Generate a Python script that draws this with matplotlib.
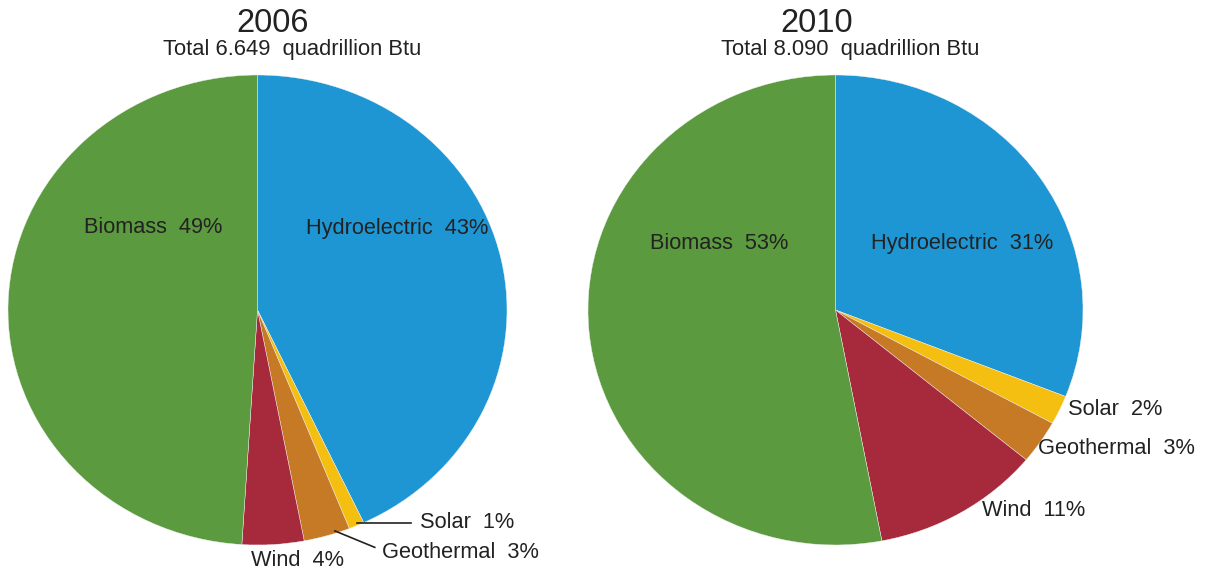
import matplotlib.pyplot as plt

plt.rcParams['font.family'] = ['Liberation Sans', 'DejaVu Sans']

W, H = 1212, 574
dpi = 100

# data (order: clockwise from 12 o'clock)
sources = ['Hydroelectric', 'Solar', 'Geothermal', 'Wind', 'Biomass']
share_2006 = [43, 1, 3, 4, 49]
share_2010 = [31, 2, 3, 11, 53]
totals = {'2006': '6.649', '2010': '8.090'}
colors = ['#1f96d4', '#f5bf12', '#c67a26', '#a62a3b', '#5b9a3e']
text_color = '#222222'


def px_box(x0, x1, y0, y1):
    # pixel box -> figure fraction [left, bottom, width, height]
    return [x0 / W, 1 - y1 / H, (x1 - x0) / W, (y1 - y0) / H]


fig = plt.figure(figsize=(W / dpi, H / dpi), dpi=dpi)

ax1 = fig.add_axes(px_box(8, 507, 75, 545))
ax2 = fig.add_axes(px_box(588, 1083, 75, 545))

for ax, vals in [(ax1, share_2006), (ax2, share_2010)]:
    ax.pie(vals, colors=colors, startangle=90, counterclock=False,
           wedgeprops=dict(edgecolor='#f4f4f4', linewidth=0.3))
    ax.set_aspect('auto')
    ax.set_xlim(-1.0, 1.0)
    ax.set_ylim(-1.0, 1.0)
    ax.axis('off')

lab_fs = 15.7

# 2006 labels
ax1.text(-0.42, 0.35, f'Biomass  {share_2006[4]}%', ha='center', va='center',
         fontsize=lab_fs, color=text_color)
ax1.text(0.56, 0.345, f'Hydroelectric  {share_2006[0]}%', ha='center', va='center',
         fontsize=lab_fs, color=text_color)
ax1.plot([0.40, 0.615], [-0.905, -0.905], color=text_color, lw=1.2, clip_on=False)
ax1.text(0.65, -0.905, f'Solar  {share_2006[1]}%', ha='left', va='center',
         fontsize=lab_fs, color=text_color)
ax1.plot([0.31, 0.47], [-0.94, -1.01], color=text_color, lw=1.2, clip_on=False)
ax1.text(0.50, -1.03, f'Geothermal  {share_2006[2]}%', ha='left', va='center',
         fontsize=lab_fs, color=text_color)
ax1.text(-0.025, -1.065, f'Wind  {share_2006[3]}%', ha='left', va='center',
         fontsize=lab_fs, color=text_color)

# 2010 labels
ax2.text(-0.47, 0.285, f'Biomass  {share_2010[4]}%', ha='center', va='center',
         fontsize=lab_fs, color=text_color)
ax2.text(0.51, 0.285, f'Hydroelectric  {share_2010[0]}%', ha='center', va='center',
         fontsize=lab_fs, color=text_color)
ax2.text(0.94, -0.425, f'Solar  {share_2010[1]}%', ha='left', va='center',
         fontsize=lab_fs, color=text_color)
ax2.text(0.82, -0.59, f'Geothermal  {share_2010[2]}%', ha='left', va='center',
         fontsize=lab_fs, color=text_color)
ax2.text(0.59, -0.855, f'Wind  {share_2010[3]}%', ha='left', va='center',
         fontsize=lab_fs, color=text_color)

# titles
for year, cx_title, cx_sub in [('2006', 273, 292), ('2010', 817, 850)]:
    fig.text(cx_title / W, 1 - 23 / H, year, ha='center', va='center',
             fontsize=23.5, color=text_color)
    fig.text(cx_sub / W, 1 - 50 / H, f'Total {totals[year]}  quadrillion Btu',
             ha='center', va='center', fontsize=15.8, color=text_color)

fig.savefig('out.png', dpi=dpi)
